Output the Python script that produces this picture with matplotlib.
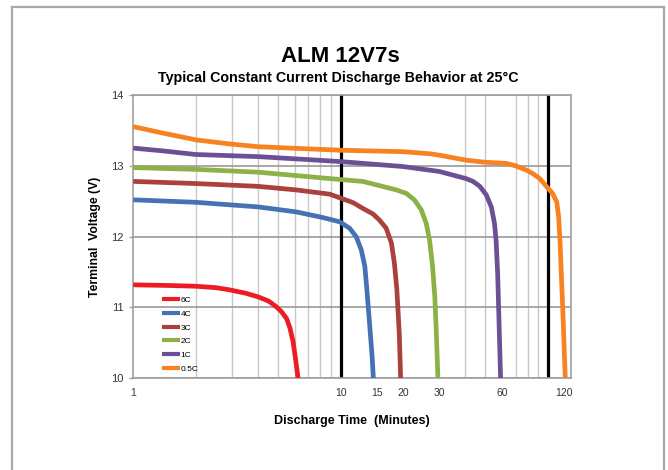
import matplotlib
matplotlib.use("Agg")
import matplotlib.pyplot as plt
from matplotlib.ticker import LogLocator, FixedLocator, NullFormatter, FixedFormatter
from matplotlib.lines import Line2D

plt.rcParams['font.family'] = ['Liberation Sans', 'DejaVu Sans']

# ---- data ----
labels = ["6C", "4C", "3C", "2C", "1C", "0.5C"]
colors = ["#ED1C24", "#4472B4", "#AA413D", "#8CB146", "#6C5096", "#F7821F"]

t_6c = [1, 1.5, 2.0, 2.5, 2.9, 3.5, 4.0, 4.5, 4.9, 5.19, 5.5, 5.7, 5.9, 6.06, 6.24]
v_6c = [11.32, 11.31, 11.30, 11.28, 11.25, 11.20, 11.15, 11.09, 11.01, 10.94, 10.84, 10.71, 10.52, 10.28, 10.0]

t_4c = [1, 2, 4, 6.1, 8.2, 9.9, 11.05, 11.9, 12.6, 13.1, 13.4, 13.8, 14.2, 14.4]
v_4c = [12.52, 12.485, 12.42, 12.35, 12.27, 12.21, 12.12, 12.0, 11.81, 11.58, 11.25, 10.78, 10.31, 10.0]

t_3c = [1, 2, 4, 6.1, 8.86, 10.1, 11.5, 12.8, 14.35, 15.4, 16.6, 17.6, 18.2, 18.7, 19.2, 19.5]
v_3c = [12.78, 12.75, 12.71, 12.66, 12.60, 12.54, 12.48, 12.40, 12.32, 12.235, 12.12, 11.91, 11.62, 11.25, 10.64, 10.0]

t_2c = [1, 2, 4, 8.86, 12.8, 18.6, 20.8, 22.7, 24.5, 25.9, 26.9, 27.8, 28.5, 29.0, 29.5]
v_2c = [12.975, 12.95, 12.91, 12.82, 12.78, 12.66, 12.61, 12.52, 12.38, 12.19, 11.95, 11.58, 11.15, 10.64, 10.0]

t_1c = [1, 1.4, 2, 4, 10, 20, 30, 40.3, 43.6, 47, 50.5, 53.4, 55.3, 56.3, 57.3, 58.2, 59.2]
v_1c = [13.25, 13.21, 13.16, 13.13, 13.06, 12.99, 12.92, 12.82, 12.78, 12.71, 12.59, 12.42, 12.19, 11.95, 11.48, 10.78, 10.0]

t_05c = [1, 1.4, 2.02, 2.9, 4, 10, 20, 27, 30, 40.3, 50, 62.8, 70, 78.8, 84.7, 91.4, 98.5,
         105.5, 110.5, 112.8, 114.5, 116.2, 118.5, 120.2, 121.5]
v_05c = [13.553, 13.46, 13.365, 13.31, 13.27, 13.22, 13.2, 13.17, 13.15, 13.08, 13.05, 13.035, 13.0,
         12.94, 12.89, 12.82, 12.71, 12.61, 12.49, 12.28, 11.95, 11.48, 10.87, 10.35, 10.0]

series_t = [t_6c, t_4c, t_3c, t_2c, t_1c, t_05c]
series_v = [v_6c, v_4c, v_3c, v_2c, v_1c, v_05c]

xtick_vals = [1, 10, 15, 20, 30, 60, 120]
xtick_labels = ["1", "10", "15", "20", "30", "60", "120"]
ytick_vals = [10, 11, 12, 13, 14]
black_lines = [10, 100]

# ---- figure ----
W, H = 668, 470
fig = plt.figure(figsize=(W / 100, H / 100), dpi=100)

# outer frame (left, top, right)
frame_kw = dict(color="#A8A8A8", lw=1.6, transform=fig.transFigure)
fig.add_artist(Line2D([12.5 / W, 12.5 / W], [0, 1 - 7 / H], **frame_kw))
fig.add_artist(Line2D([12.5 / W, 664 / W], [1 - 7 / H, 1 - 7 / H], **frame_kw))
fig.add_artist(Line2D([664 / W, 664 / W], [0, 1 - 7 / H], **frame_kw))

left, right, top, bottom = 133.3, 570.7, 95, 378.3
ax = fig.add_axes([left / W, (H - bottom) / H, (right - left) / W, (bottom - top) / H])

ax.set_xscale("log")
ax.set_xlim(1, 129)
ax.set_ylim(10, 14)

# grid
ax.xaxis.set_major_locator(FixedLocator(xtick_vals))
ax.xaxis.set_major_formatter(FixedFormatter(xtick_labels))
ax.xaxis.set_minor_locator(LogLocator(base=10, subs=range(1, 10), numticks=20))
ax.xaxis.set_minor_formatter(NullFormatter())
ax.grid(False)
ax.grid(True, which="minor", axis="x", color="#C8C8C8", lw=1.0)
ax.set_yticks(ytick_vals)
ax.grid(True, which="major", axis="y", color="#A0A0A0", lw=1.3)
ax.set_axisbelow(True)

for xv in black_lines:
    ax.axvline(xv, color="black", lw=2.3, zorder=2)

for t, v, c, lab in zip(series_t, series_v, colors, labels):
    ax.plot(t, v, color=c, lw=3.4, label=lab, solid_capstyle="butt",
            solid_joinstyle="round", zorder=3)

for s in ax.spines.values():
    s.set_color("#A0A0A0")
    s.set_linewidth(1.2)

ax.tick_params(axis="x", which="both", length=0, pad=7, labelsize=7.5, colors="#333333")
ax.tick_params(axis="y", which="both", length=3, width=1, color="#A0A0A0", pad=4,
               labelsize=8, labelcolor="#333333")

ax.set_xlabel("Discharge Time  (Minutes)", fontsize=9, fontweight="bold", labelpad=12)
ax.set_ylabel("Terminal  Voltage (V)", fontsize=8.8, fontweight="bold", labelpad=7)

leg = ax.legend(loc="upper left", bbox_to_anchor=(0.065, 0.289), frameon=False,
                fontsize=6, handlelength=2.2, handletextpad=0.05, labelspacing=0.7,
                borderpad=0, borderaxespad=0)
for h in leg.get_lines():
    h.set_linewidth(3)

fig.text(340.8 / W, 1 - 56.7 / H, "ALM 12V7s", ha="center", va="center",
         fontsize=16, fontweight="bold")
fig.text(338.3 / W, 1 - 78.3 / H, "Typical Constant Current Discharge Behavior at 25°C",
         ha="center", va="center", fontsize=10.3, fontweight="bold")

fig.savefig("out.png", dpi=100)
